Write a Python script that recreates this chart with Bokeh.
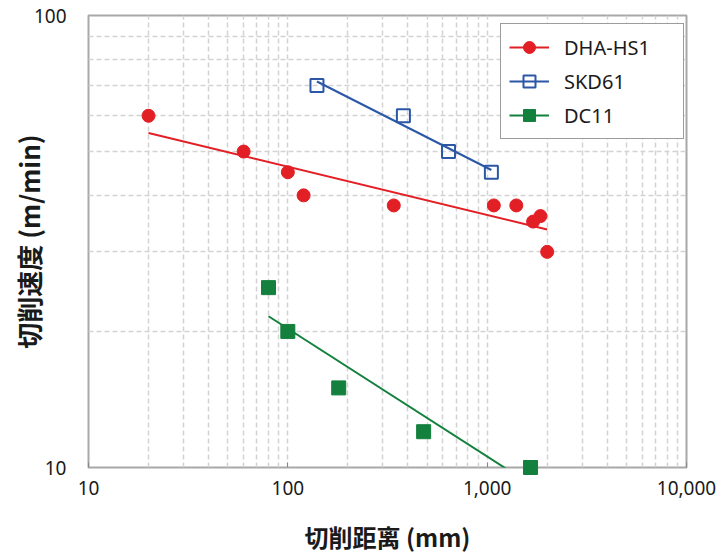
import numpy as np
from bokeh.plotting import figure
from bokeh.models import FixedTicker, NumeralTickFormatter, Legend, LegendItem
from bokeh.embed import file_html
from bokeh.resources import INLINE

# ---- data ----
dha_x = [20, 60, 100, 120, 340, 1080, 1400, 1700, 1850, 2000]
dha_y = [60, 50, 45, 40, 38, 38, 38, 35, 36, 30]
skd_x = [140, 380, 640, 1050]
skd_y = [70, 60, 50, 45]
dc_x = [80, 100, 180, 480, 1650]
dc_y = [25, 20, 15, 12, 10]

series_names = ["DHA-HS1", "SKD61", "DC11"]
x_major = [10, 100, 1000, 10000]
y_major = [10, 100]
x_title = "切削距离 (mm)"
y_title = "切削速度 (m/min)"

RED = "#e31f26"
BLUE = "#2c57a6"
GREEN = "#13813d"
GRID = "#d3d3d3"
FRAME = "#a8a8a8"
TXT = "#1a1a1a"
TICK_FONT = "Noto Sans"
JP_FONT = "Noto Sans CJK JP"


def minor_of(majors):
    out = []
    for d in majors[:-1]:
        out += [d * m for m in range(2, 10)]
    return out


def power_fit(xs, ys):
    lx, ly = np.log10(xs), np.log10(ys)
    b, a = np.polyfit(lx, ly, 1)
    xe = np.array([min(xs), max(xs)], dtype=float)
    return xe, 10 ** (a + b * np.log10(xe))


p = figure(width=716, height=556, x_axis_type="log", y_axis_type="log",
           x_range=(10, 10000), y_range=(10, 100),
           output_backend="svg", toolbar_location=None,
           min_border_left=88, min_border_right=30, min_border_top=15, min_border_bottom=89,
           background_fill_color="white", border_fill_color="white")

p.outline_line_color = FRAME
p.outline_line_width = 2

p.xaxis.ticker = FixedTicker(ticks=x_major, minor_ticks=minor_of(x_major))
p.yaxis.ticker = FixedTicker(ticks=y_major, minor_ticks=minor_of(y_major))
p.xaxis.formatter = NumeralTickFormatter(format="0,0")
p.yaxis.formatter = NumeralTickFormatter(format="0,0")

for ax in (p.xaxis, p.yaxis):
    ax.axis_line_color = None
    ax.major_tick_out = 0
    ax.minor_tick_out = 0
    ax.minor_tick_in = 0
    ax.major_label_text_font = TICK_FONT
    ax.major_label_text_font_size = "19px"
    ax.major_label_text_color = TXT
    ax.axis_label_text_font = JP_FONT
    ax.axis_label_text_font_style = "bold"
    ax.axis_label_text_color = TXT

p.xaxis.axis_label_text_font_size = "24px"
p.yaxis.axis_label_text_font_size = "26px"
p.xaxis.major_tick_in = 5
p.xaxis.major_tick_line_color = "#888888"
p.yaxis.major_tick_in = 0
p.xaxis.major_label_standoff = 13
p.yaxis.major_label_standoff = 22
p.xaxis.axis_label = x_title
p.yaxis.axis_label = y_title
p.xaxis.axis_label_standoff = 21
p.yaxis.axis_label_standoff = -16

for g in (p.xgrid, p.ygrid):
    g.grid_line_color = GRID
    g.grid_line_width = 1.5
    g.grid_line_dash = "5 3"
    g.minor_grid_line_color = GRID
    g.minor_grid_line_width = 1.5
    g.minor_grid_line_dash = "5 3"

items = []
specs = [
    (dha_x, dha_y, RED, "circle", 13, RED, 1),
    (skd_x, skd_y, BLUE, "square", 13, None, 2),
    (dc_x, dc_y, GREEN, "square", 14, GREEN, 1),
]
for name, (xs, ys, col, marker, size, fill, lw) in zip(series_names, specs):
    fx, fy = power_fit(xs, ys)
    lr = p.line(fx, fy, line_color=col, line_width=2)
    if fill is None:
        sr = p.scatter(xs, ys, marker=marker, size=size, line_color=col,
                       line_width=lw, fill_color="white", fill_alpha=0, level="overlay")
    else:
        sr = p.scatter(xs, ys, marker=marker, size=size, line_color=col,
                       line_width=lw, fill_color=fill, level="overlay")
    items.append(LegendItem(label=name, renderers=[lr, sr]))

legend = Legend(items=items, location=(412, 328))
legend.border_line_color = "#3a3a3a"
legend.border_line_width = 1.5
legend.background_fill_color = "white"
legend.background_fill_alpha = 1
legend.glyph_width = 40
legend.glyph_height = 30
legend.label_height = 30
legend.spacing = 4
legend.padding = 8
legend.margin = 0
legend.label_standoff = 15
legend.label_width = 111
legend.label_text_font = TICK_FONT
legend.label_text_font_size = "20px"
legend.label_text_color = TXT
p.add_layout(legend)

open("out.html", "w").write(file_html(p, INLINE))
